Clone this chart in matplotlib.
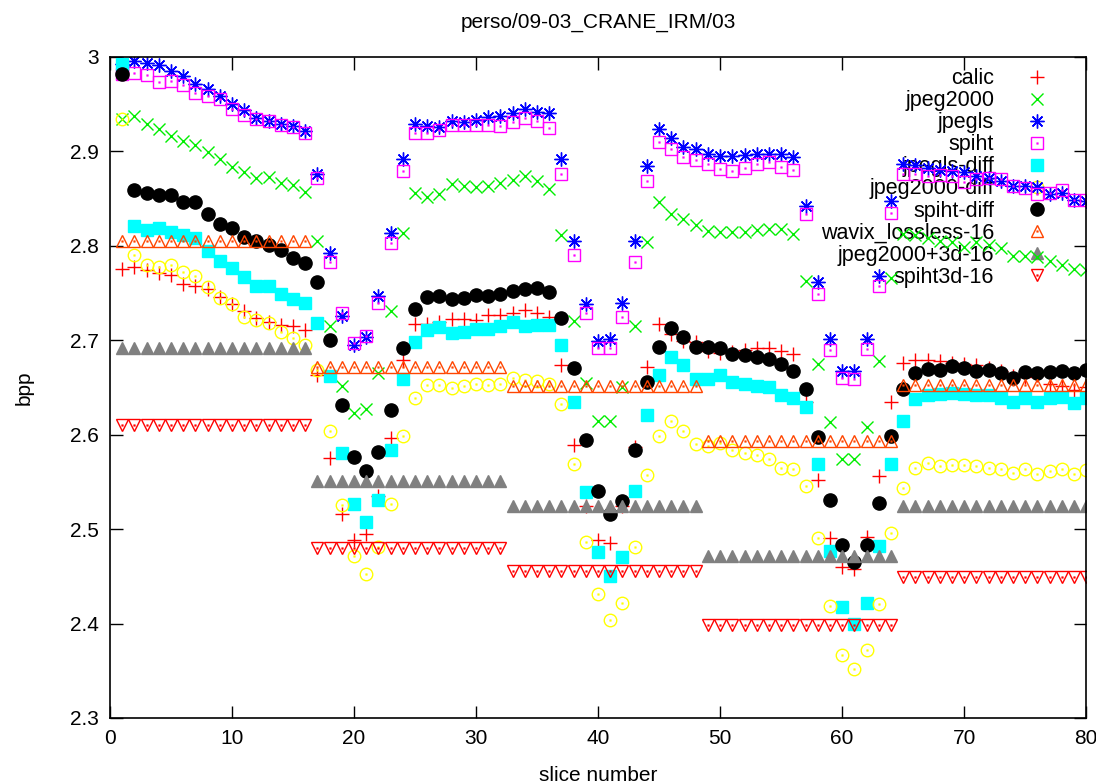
import numpy as np
import matplotlib
matplotlib.use("Agg")
import matplotlib.pyplot as plt
from matplotlib.legend_handler import HandlerTuple

plt.rcParams['font.family'] = ['Liberation Sans', 'DejaVu Sans']

slices = np.arange(1, 81)

calic = [2.776, 2.778, 2.774, 2.771, 2.769, 2.760, 2.757, 2.754, 2.746, 2.738, 2.731, 2.724, 2.719, 2.716, 2.715, 2.711,
         2.663, 2.575, 2.516, 2.489, 2.495, 2.535, 2.597, 2.679, 2.717, 2.717, 2.719, 2.723, 2.723, 2.722, 2.727, 2.727,
         2.729, 2.732, 2.729, 2.725, 2.674, 2.589, 2.525, 2.489, 2.485, 2.525, 2.587, 2.672, 2.717, 2.707, 2.699, 2.698,
         2.689, 2.686, 2.688, 2.690, 2.692, 2.692, 2.689, 2.685, 2.635, 2.552, 2.491, 2.460, 2.458, 2.492, 2.556, 2.635,
         2.676, 2.679, 2.679, 2.678, 2.676, 2.675, 2.674, 2.671, 2.667, 2.662, 2.661, 2.663, 2.654, 2.652, 2.647, 2.650]

jpeg2000 = [2.934, 2.938, 2.929, 2.924, 2.916, 2.911, 2.907, 2.899, 2.892, 2.884, 2.878, 2.872, 2.873, 2.867, 2.864, 2.857,
            2.805, 2.715, 2.652, 2.623, 2.627, 2.665, 2.731, 2.814, 2.856, 2.852, 2.855, 2.865, 2.863, 2.862, 2.863, 2.867,
            2.870, 2.874, 2.869, 2.860, 2.812, 2.720, 2.655, 2.614, 2.614, 2.651, 2.715, 2.804, 2.846, 2.834, 2.828, 2.822,
            2.816, 2.815, 2.815, 2.815, 2.817, 2.818, 2.818, 2.813, 2.763, 2.675, 2.613, 2.574, 2.574, 2.608, 2.678, 2.766,
            2.813, 2.812, 2.808, 2.805, 2.804, 2.799, 2.804, 2.801, 2.798, 2.789, 2.789, 2.788, 2.784, 2.780, 2.776, 2.774]

jpegls = [2.993, 2.996, 2.994, 2.991, 2.985, 2.980, 2.971, 2.966, 2.959, 2.950, 2.944, 2.935, 2.932, 2.929, 2.927, 2.922,
          2.876, 2.792, 2.726, 2.695, 2.704, 2.747, 2.814, 2.892, 2.929, 2.927, 2.926, 2.932, 2.931, 2.933, 2.936, 2.938,
          2.941, 2.945, 2.942, 2.941, 2.892, 2.805, 2.738, 2.699, 2.701, 2.739, 2.805, 2.885, 2.924, 2.914, 2.905, 2.903,
          2.897, 2.895, 2.895, 2.896, 2.897, 2.897, 2.897, 2.894, 2.842, 2.762, 2.701, 2.667, 2.667, 2.701, 2.768, 2.848,
          2.887, 2.886, 2.882, 2.880, 2.879, 2.878, 2.874, 2.872, 2.869, 2.863, 2.863, 2.862, 2.855, 2.856, 2.849, 2.848]

spiht = [2.982, 2.983, 2.981, 2.973, 2.975, 2.970, 2.962, 2.959, 2.955, 2.945, 2.939, 2.934, 2.932, 2.928, 2.926, 2.920,
         2.872, 2.783, 2.729, 2.697, 2.705, 2.739, 2.803, 2.879, 2.920, 2.919, 2.923, 2.928, 2.928, 2.928, 2.928, 2.927,
         2.931, 2.935, 2.932, 2.925, 2.876, 2.790, 2.729, 2.692, 2.692, 2.725, 2.783, 2.869, 2.910, 2.903, 2.894, 2.891,
         2.887, 2.881, 2.879, 2.882, 2.887, 2.889, 2.884, 2.880, 2.834, 2.749, 2.690, 2.660, 2.659, 2.691, 2.757, 2.835,
         2.876, 2.876, 2.874, 2.875, 2.874, 2.868, 2.871, 2.872, 2.871, 2.863, 2.861, 2.855, 2.856, 2.859, 2.849, 2.849]

jpegls_diff = [2.993, 2.821, 2.817, 2.819, 2.815, 2.811, 2.808, 2.795, 2.784, 2.777, 2.767, 2.758, 2.757, 2.749, 2.744, 2.739,
               2.718, 2.662, 2.581, 2.527, 2.508, 2.531, 2.584, 2.659, 2.698, 2.711, 2.714, 2.708, 2.709, 2.712, 2.712, 2.715,
               2.719, 2.715, 2.716, 2.716, 2.695, 2.635, 2.539, 2.476, 2.450, 2.471, 2.540, 2.621, 2.663, 2.682, 2.674, 2.659,
               2.659, 2.663, 2.656, 2.654, 2.652, 2.651, 2.642, 2.639, 2.629, 2.569, 2.477, 2.418, 2.400, 2.422, 2.482, 2.569,
               2.615, 2.638, 2.642, 2.643, 2.644, 2.643, 2.642, 2.642, 2.639, 2.635, 2.639, 2.635, 2.639, 2.640, 2.634, 2.639]

jpeg2000_diff = [2.934, 2.790, 2.780, 2.778, 2.780, 2.772, 2.768, 2.756, 2.745, 2.738, 2.725, 2.722, 2.718, 2.709, 2.702, 2.695,
                 2.668, 2.604, 2.526, 2.472, 2.453, 2.481, 2.527, 2.599, 2.639, 2.653, 2.653, 2.649, 2.652, 2.654, 2.653, 2.654,
                 2.660, 2.658, 2.657, 2.654, 2.632, 2.569, 2.486, 2.431, 2.404, 2.422, 2.481, 2.557, 2.599, 2.615, 2.604, 2.590,
                 2.588, 2.591, 2.584, 2.581, 2.579, 2.574, 2.565, 2.564, 2.546, 2.491, 2.419, 2.367, 2.352, 2.372, 2.421, 2.496,
                 2.544, 2.565, 2.570, 2.567, 2.568, 2.568, 2.567, 2.565, 2.564, 2.559, 2.564, 2.558, 2.562, 2.564, 2.558, 2.563]

spiht_diff = [2.982, 2.859, 2.856, 2.854, 2.854, 2.846, 2.846, 2.834, 2.823, 2.819, 2.809, 2.805, 2.801, 2.796, 2.787, 2.782,
              2.762, 2.700, 2.631, 2.576, 2.562, 2.582, 2.626, 2.692, 2.733, 2.746, 2.747, 2.744, 2.745, 2.748, 2.747, 2.749,
              2.752, 2.754, 2.755, 2.751, 2.724, 2.671, 2.594, 2.540, 2.516, 2.530, 2.584, 2.656, 2.693, 2.713, 2.704, 2.693,
              2.693, 2.692, 2.685, 2.684, 2.682, 2.680, 2.675, 2.667, 2.648, 2.598, 2.531, 2.483, 2.465, 2.483, 2.528, 2.599,
              2.648, 2.665, 2.670, 2.668, 2.673, 2.671, 2.667, 2.668, 2.665, 2.660, 2.666, 2.665, 2.666, 2.667, 2.665, 2.669]

# 3d methods: one value per group of 16 slices
wavix_blocks = [2.805, 2.672, 2.652, 2.593, 2.653]
j2k3d_blocks = [2.692, 2.551, 2.525, 2.472, 2.525]
spiht3d_blocks = [2.610, 2.480, 2.456, 2.399, 2.449]

wavix = np.repeat(wavix_blocks, 16)
j2k3d = np.repeat(j2k3d_blocks, 16)
spiht3d = np.repeat(spiht3d_blocks, 16)

fig = plt.figure(figsize=(10.96, 7.84), dpi=100)
ax = fig.add_axes([0.1004, 0.0842, 0.8906, 0.8431])

ms = 9
handles = []

def dotted(y, marker, color, label):
    # gnuplot open symbols have a small dot in the middle
    a, = ax.plot(slices, y, ls='none', marker=marker, ms=ms, mfc='none', mec=color, mew=1.0)
    b, = ax.plot(slices, y, ls='none', marker='s', ms=1.2, mfc=color, mec=color, mew=0.3)
    handles.append(((a, b), label))

h, = ax.plot(slices, calic, ls='none', marker='+', ms=ms + 1, mec='#ff0000', mew=1.0)
handles.append((h, 'calic'))
h, = ax.plot(slices, jpeg2000, ls='none', marker='x', ms=ms, mec='#00ee00', mew=1.0)
handles.append((h, 'jpeg2000'))
h, = ax.plot(slices, jpegls, ls='none', marker=(8, 2, 0), ms=ms + 1, mec='#0000ff', mew=1.0)
handles.append((h, 'jpegls'))
dotted(spiht, 's', '#ff00ff', 'spiht')
h, = ax.plot(slices, jpegls_diff, ls='none', marker='s', ms=ms, mfc='#00ffff', mec='#00ffff')
handles.append((h, 'jpegls-diff'))
dotted(jpeg2000_diff, 'o', '#ffff00', 'jpeg2000-diff')
h, = ax.plot(slices, spiht_diff, ls='none', marker='o', ms=ms + 0.5, mfc='black', mec='black')
handles.append((h, 'spiht-diff'))
dotted(wavix, '^', '#ff4500', 'wavix_lossless-16')
h, = ax.plot(slices, j2k3d, ls='none', marker='^', ms=ms, mfc='#808080', mec='#808080')
handles.append((h, 'jpeg2000+3d-16'))
dotted(spiht3d, 'v', '#ff0000', 'spiht3d-16')

ax.set_xlim(0, 80)
ax.set_ylim(2.3, 3.0)
ax.set_xticks(np.arange(0, 81, 10))
yt = np.arange(2.3, 3.001, 0.1)
ax.set_yticks(yt)
ax.set_yticklabels(['%g' % round(v, 1) for v in yt])
ax.tick_params(direction='in', top=True, right=True, length=9, width=1, labelsize=15, pad=8)
for s in ax.spines.values():
    s.set_linewidth(1.2)

ax.set_title('perso/09-03_CRANE_IRM/03', fontsize=15, pad=21)
ax.set_xlabel('slice number', fontsize=15, labelpad=13)
ax.set_ylabel('bpp', fontsize=15, labelpad=26)

leg = ax.legend([h for h, _ in handles], [l for _, l in handles],
                handler_map={tuple: HandlerTuple(ndivide=1, pad=0)},
                loc='upper right', bbox_to_anchor=(0.978, 1.006), markerfirst=False,
                frameon=False, fontsize=15.5, numpoints=1, handlelength=1.2,
                handletextpad=1.37, labelspacing=0.05, borderpad=0.2)
leg.set_zorder(1)  # points drawn over the key, as gnuplot does

fig.savefig('out.png', dpi=100)
